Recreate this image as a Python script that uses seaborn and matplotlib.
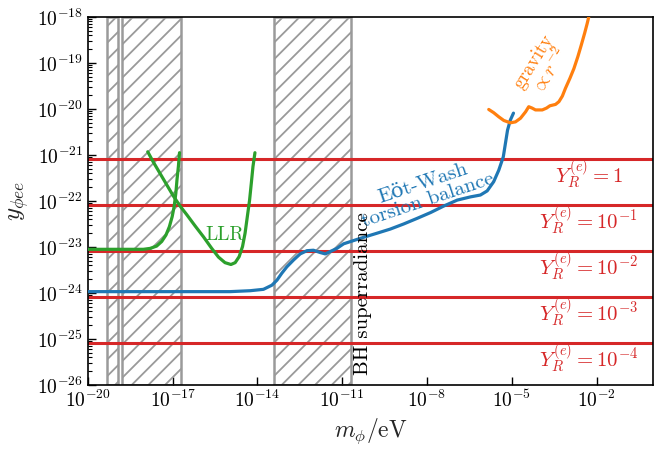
import numpy as np
import pandas as pd
import matplotlib
matplotlib.use("Agg")
import matplotlib.pyplot as plt
import matplotlib.ticker as mticker
import seaborn as sns

# ---------------- data (log10 values) ----------------
llr_a_logm = [-20.0, -18.04, -17.80, -17.57, -17.39, -17.24, -17.12, -17.02, -16.95,
              -16.89, -16.85, -16.80, -16.76]
llr_a_logy = [-23.05, -23.05, -23.03, -22.98, -22.88, -22.74, -22.56, -22.34, -22.12,
              -21.83, -21.54, -21.25, -20.95]

llr_b_logm = [-17.885, -17.69, -17.45, -17.21, -16.98, -16.74, -16.50, -16.21, -15.91,
              -15.62, -15.38, -15.15, -14.94, -14.79, -14.65, -14.53, -14.44, -14.36,
              -14.28, -14.22, -14.16, -14.09]
llr_b_logy = [-20.93, -21.15, -21.40, -21.65, -21.89, -22.11, -22.30, -22.54, -22.78,
              -23.03, -23.22, -23.34, -23.38, -23.34, -23.21, -22.99, -22.70, -22.34,
              -21.98, -21.62, -21.25, -20.95]

ew_logm = [-20.0, -14.97, -14.26, -13.79, -13.49, -13.31, -13.14, -12.96, -12.72, -12.49,
           -12.25, -12.02, -11.78, -11.60, -11.43, -11.19, -10.95, -10.60, -10.25, -9.77,
           -9.30, -8.83, -8.36, -7.87, -7.41, -6.93, -6.46, -6.11, -5.87, -5.64, -5.46,
           -5.30, -5.15, -5.05, -4.94]
ew_logy = [-23.97, -23.97, -23.95, -23.92, -23.83, -23.72, -23.57, -23.43, -23.28, -23.15,
           -23.08, -23.07, -23.12, -23.15, -23.10, -23.03, -22.93, -22.86, -22.79, -22.70,
           -22.61, -22.50, -22.38, -22.25, -22.11, -21.98, -21.91, -21.87, -21.78, -21.58,
           -21.33, -21.04, -20.46, -20.24, -20.09]

grav_logm = [-5.815, -5.64, -5.46, -5.28, -5.05, -4.87, -4.69, -4.51, -4.40, -4.28, -4.16,
             -3.92, -3.77, -3.65, -3.45, -3.33, -3.21, -3.10, -2.94, -2.80, -2.66, -2.54,
             -2.42, -2.33, -2.26, -2.20]
grav_logy = [-20.01, -20.08, -20.17, -20.25, -20.30, -20.28, -20.20, -20.06, -19.95, -19.98,
             -20.02, -20.02, -19.98, -19.93, -19.90, -19.84, -19.72, -19.55, -19.33, -19.12,
             -18.86, -18.61, -18.35, -18.14, -17.96, -17.80]

# BH superradiance excluded mass bands (log10 eV)
bh_bands = [(-19.34, -18.955), (-18.785, -16.706), (-13.42, -10.70)]

# Y_R^(e) benchmark lines
yr_exponents = [0, -1, -2, -3, -4]
yr_labels = [r"$Y_R^{(e)} = 1$", r"$Y_R^{(e)} = 10^{-1}$", r"$Y_R^{(e)} = 10^{-2}$",
             r"$Y_R^{(e)} = 10^{-3}$", r"$Y_R^{(e)} = 10^{-4}$"]
yr_norm = 8.0e-22

xticks = [1e-20, 1e-17, 1e-14, 1e-11, 1e-8, 1e-5, 1e-2]

# ---------------- style ----------------
sns.set_theme(style="ticks")
plt.rcParams.update({
    "font.family": ["cmr10", "DejaVu Serif"],
    "mathtext.fontset": "cm",
    "axes.formatter.use_mathtext": True,
    "axes.unicode_minus": True,
    "axes.edgecolor": "black",
    "axes.linewidth": 1.2,
    "xtick.direction": "in",
    "ytick.direction": "in",
    "xtick.color": "black",
    "ytick.color": "black",
    "figure.facecolor": "white",
    "axes.facecolor": "white",
    "hatch.linewidth": 1.3,
})

fig = plt.figure(figsize=(6.65, 4.51), dpi=100)
ax = fig.add_axes([0.1323, 0.1463, 0.8497, 0.816])

blue, orange, green, red = "#1f77b4", "#ff7f0e", "#2ca02c", "#d62728"

# hatched BH superradiance bands
for lo, hi in bh_bands:
    ax.axvspan(10**lo, 10**hi, facecolor="none", edgecolor="#9a9a9a",
               hatch="//", linewidth=1.8, zorder=1)

# red horizontal lines
for e in yr_exponents:
    ax.axhline(yr_norm * 10.0**e, color=red, lw=2.2, zorder=2)

def curve(lm, ly, color):
    df = pd.DataFrame({"m": 10.0 ** np.array(lm), "y": 10.0 ** np.array(ly)})
    sns.lineplot(data=df, x="m", y="y", ax=ax, color=color, lw=2.3,
                 sort=False, estimator=None, zorder=3)

curve(llr_a_logm, llr_a_logy, green)
curve(llr_b_logm, llr_b_logy, green)
curve(ew_logm, ew_logy, blue)
curve(grav_logm, grav_logy, orange)

ax.set_xscale("log")
ax.set_yscale("log")
ax.set_xlim(1e-20, 1e0)
ax.set_ylim(1e-26, 1e-18)

ax.xaxis.set_major_locator(mticker.FixedLocator(xticks))
ax.xaxis.set_major_formatter(mticker.LogFormatterSciNotation())
ax.xaxis.set_minor_locator(mticker.NullLocator())
ax.yaxis.set_major_locator(mticker.LogLocator(base=10, numticks=20))
ax.yaxis.set_minor_locator(mticker.LogLocator(base=10, subs=np.arange(2, 10), numticks=20))
ax.yaxis.set_minor_formatter(mticker.NullFormatter())
ax.tick_params(which="major", length=6, width=1.0, labelsize=14, top=False, right=False)
ax.tick_params(which="minor", length=3, width=0.8, top=False, right=False)
for s in ax.spines.values():
    s.set_visible(True)
    s.set_color("black")

ax.set_xlabel(r"$m_\phi/\mathrm{eV}$", fontsize=17, labelpad=4)
ax.set_ylabel(r"$y_{\phi ee}$", fontsize=18, labelpad=4)

# annotations
ax.text(10**-15.15, 10**-22.74, "LLR", color=green, fontsize=14, ha="center", va="center")
ax.text(10**-8.05, 10**-21.80, "E\u00f6t-Wash\ntorsion balance", color=blue, fontsize=15,
        ha="center", va="center", rotation=18.5, linespacing=0.95)
ax.text(10**-3.9, 10**-19.08, "gravity\n" + r"$\propto r^{-2}$", color=orange, fontsize=14,
        ha="center", va="center", rotation=58, linespacing=0.95)
ax.text(10**-10.255, 10**-25.78, "BH superradiance", color="black", fontsize=15,
        ha="center", va="bottom", rotation=90)
for e, lab in zip(yr_exponents, yr_labels):
    ax.text(10**-2.28, yr_norm * 10.0**e * 0.47, lab, color=red, fontsize=15,
            ha="center", va="center")

fig.savefig("out.png", dpi=100)
